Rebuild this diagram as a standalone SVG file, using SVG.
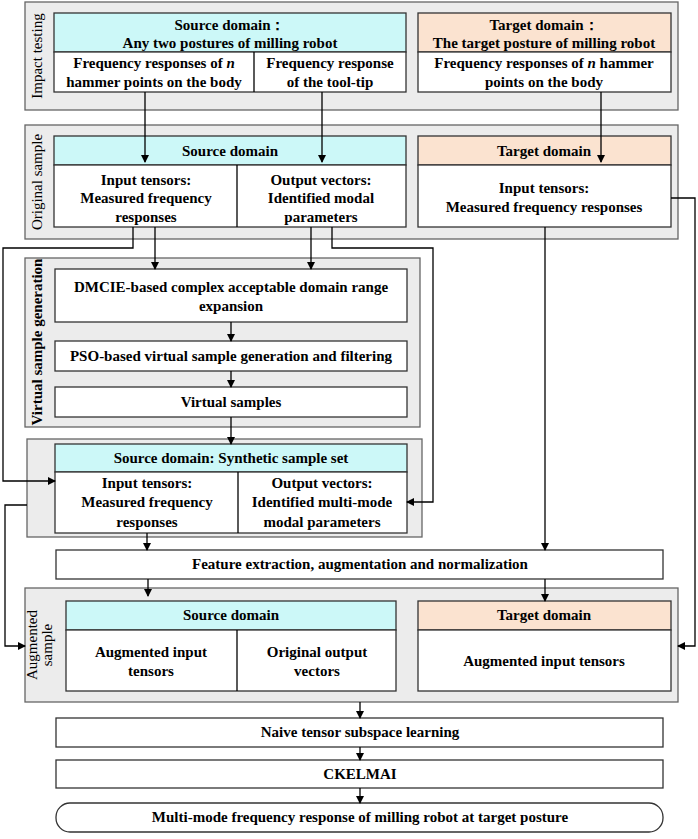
<svg xmlns="http://www.w3.org/2000/svg" width="698" height="839" viewBox="0 0 698 839">
<style>
text{font-family:"Liberation Serif",serif;font-size:15px;fill:#000;text-anchor:middle}
.b{font-weight:bold}
.p{fill:#ececec;stroke:#666;stroke-width:1.3}
.w{fill:#fff;stroke:#333;stroke-width:1.3}
.c{fill:#ccf8f8;stroke:#333;stroke-width:1.3}
.o{fill:#fbe3d0;stroke:#333;stroke-width:1.3}
.l{fill:none;stroke:#000;stroke-width:1.3}
.v{font-size:15px}
</style>
<defs><marker id="a" markerWidth="8" markerHeight="8" refX="7" refY="4" orient="auto" markerUnits="userSpaceOnUse"><path d="M0,0L8,4L0,8z" fill="#000"/></marker></defs>
<g id="panels">
<rect class="p" x="25" y="2" width="653" height="108"/>
<rect class="p" x="25" y="125" width="653" height="114"/>
<rect class="p" x="25" y="258" width="395" height="169"/>
<rect class="p" x="27" y="439" width="395" height="98"/>
<rect class="p" x="25" y="588" width="653" height="114"/>
<text class="v" transform="translate(42 56) rotate(-90)">Impact testing</text>
<text class="v" transform="translate(42 182) rotate(-90)">Original sample</text>
<text class="b" font-size="14" transform="translate(42 342) rotate(-90)">Virtual sample generation</text>
<text class="v" transform="translate(37 645) rotate(-90)">Augmented</text>
<text class="v" transform="translate(52 645) rotate(-90)">sample</text>
</g>
<g id="impact-source">
<rect class="c" x="54" y="13" width="352" height="39"/>
<rect class="w" x="54" y="52" width="352" height="40"/>
<line class="l" x1="254" y1="52" x2="254" y2="92"/>
<text class="b" x="230" y="30">Source domain：</text>
<text class="b" x="230" y="48">Any two postures of milling robot</text>
<text class="b" x="154" y="68">Frequency responses of <tspan font-style="italic">n</tspan></text>
<text class="b" x="154" y="87">hammer points on the body</text>
<text class="b" x="330" y="68">Frequency response</text>
<text class="b" x="330" y="87">of the tool-tip</text>
</g>
<g id="impact-target">
<rect class="o" x="418" y="13" width="253" height="39"/>
<rect class="w" x="418" y="52" width="253" height="40"/>
<text class="b" x="544" y="30">Target domain：</text>
<text class="b" x="544" y="48">The target posture of milling robot</text>
<text class="b" x="544" y="68">Frequency responses of <tspan font-style="italic">n</tspan> hammer</text>
<text class="b" x="544" y="87">points on the body</text>
</g>
<g id="orig-source">
<rect class="c" x="54" y="136" width="352" height="29"/>
<rect class="w" x="54" y="165" width="352" height="62"/>
<line class="l" x1="237" y1="165" x2="237" y2="227"/>
<text class="b" x="230" y="156">Source domain</text>
<text class="b" x="146" y="185">Input tensors:</text>
<text class="b" x="146" y="203">Measured frequency</text>
<text class="b" x="146" y="222">responses</text>
<text class="b" x="321" y="185">Output vectors:</text>
<text class="b" x="321" y="203">Identified modal</text>
<text class="b" x="321" y="222">parameters</text>
</g>
<g id="orig-target">
<rect class="o" x="418" y="136" width="253" height="29"/>
<rect class="w" x="418" y="165" width="253" height="62"/>
<text class="b" x="544" y="156">Target domain</text>
<text class="b" x="544" y="193">Input tensors:</text>
<text class="b" x="544" y="212">Measured frequency responses</text>
</g>
<g id="dmcie"><rect class="w" x="55" y="269" width="352" height="53"/>
<text class="b" x="231" y="292">DMCIE-based complex acceptable domain range</text>
<text class="b" x="231" y="311">expansion</text></g>
<g id="pso"><rect class="w" x="55" y="341" width="352" height="30"/>
<text class="b" x="231" y="361" font-size="14">PSO-based virtual sample generation and filtering</text></g>
<g id="virtual"><rect class="w" x="55" y="387" width="352" height="30"/>
<text class="b" x="231" y="407">Virtual samples</text></g>
<g id="synthetic">
<rect class="c" x="55" y="444" width="352" height="28"/>
<rect class="w" x="55" y="472" width="352" height="61"/>
<line class="l" x1="238" y1="472" x2="238" y2="533"/>
<text class="b" x="231" y="463">Source domain: Synthetic sample set</text>
<text class="b" x="147" y="488">Input tensors:</text>
<text class="b" x="147" y="507">Measured frequency</text>
<text class="b" x="147" y="527">responses</text>
<text class="b" x="322" y="488">Output vectors:</text>
<text class="b" x="322" y="507">Identified multi-mode</text>
<text class="b" x="322" y="527">modal parameters</text>
</g>
<g id="feature"><rect class="w" x="56" y="550" width="607" height="29"/>
<text class="b" x="360" y="569">Feature extraction, augmentation and normalization</text></g>
<g id="aug-source">
<rect class="c" x="66" y="601" width="330" height="29"/>
<rect class="w" x="66" y="630" width="330" height="61"/>
<line class="l" x1="237" y1="630" x2="237" y2="691"/>
<text class="b" x="231" y="620">Source domain</text>
<text class="b" x="151" y="657">Augmented input</text>
<text class="b" x="151" y="676">tensors</text>
<text class="b" x="317" y="657">Original output</text>
<text class="b" x="317" y="676">vectors</text>
</g>
<g id="aug-target">
<rect class="o" x="418" y="601" width="253" height="29"/>
<rect class="w" x="418" y="630" width="253" height="61"/>
<text class="b" x="544" y="620">Target domain</text>
<text class="b" x="544" y="666">Augmented input tensors</text>
</g>
<g id="naive"><rect class="w" x="56" y="718" width="607" height="29"/>
<text class="b" x="360" y="737">Naive tensor subspace learning</text></g>
<g id="ckelmai"><rect class="w" x="56" y="760" width="607" height="28"/>
<text class="b" x="360" y="779">CKELMAI</text></g>
<g id="final"><rect class="w" x="56" y="803" width="607" height="29" rx="14"/>
<text class="b" x="360" y="822">Multi-mode frequency response of milling robot at target posture</text></g>
<g id="connectors">
<path class="l" marker-end="url(#a)" d="M145 92V162"/>
<path class="l" marker-end="url(#a)" d="M322 92V162"/>
<path class="l" marker-end="url(#a)" d="M601 92V162"/>
<path class="l" marker-end="url(#a)" d="M133 227V248H3V481H55"/>
<path class="l" marker-end="url(#a)" d="M155 227V269"/>
<path class="l" marker-end="url(#a)" d="M311 227V269"/>
<path class="l" marker-end="url(#a)" d="M332 227V248H433V502H407"/>
<path class="l" marker-end="url(#a)" d="M671 198H695V646H678"/>
<path class="l" marker-end="url(#a)" d="M545 227V550"/>
<path class="l" marker-end="url(#a)" d="M27 505H5V646H25"/>
<path class="l" marker-end="url(#a)" d="M231 322V341"/>
<path class="l" marker-end="url(#a)" d="M231 371V387"/>
<path class="l" marker-end="url(#a)" d="M231 417V444"/>
<path class="l" marker-end="url(#a)" d="M147 533V550"/>
<path class="l" marker-end="url(#a)" d="M148 579V596"/>
<path class="l" marker-end="url(#a)" d="M545 579V601"/>
<path class="l" marker-end="url(#a)" d="M360 702V718"/>
<path class="l" marker-end="url(#a)" d="M360 747V760"/>
<path class="l" marker-end="url(#a)" d="M360 788V803"/>
</g>
</svg>
